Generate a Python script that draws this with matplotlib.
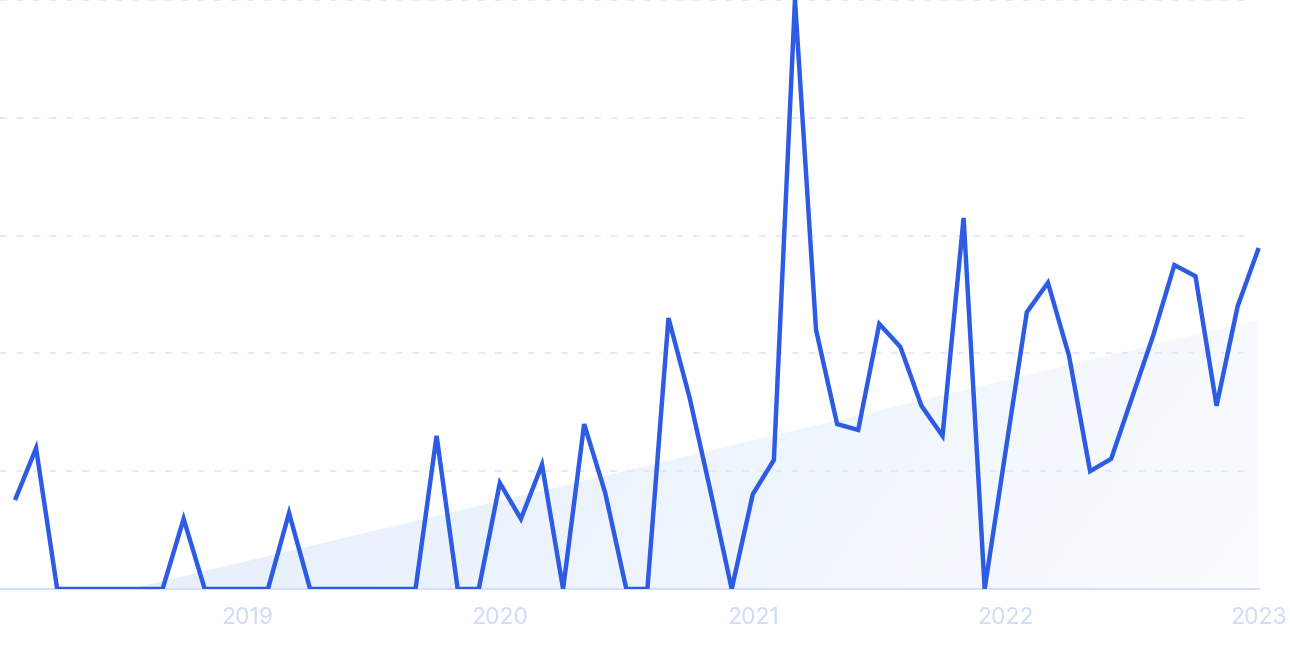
import matplotlib
matplotlib.use("Agg")
import matplotlib.pyplot as plt
import numpy as np
from matplotlib.patches import Polygon
from matplotlib.colors import LinearSegmentedColormap

# Monthly values, Feb 2018 .. Jan 2023 (index 0..59)
values = [15.1, 23.9, 0, 0, 0, 0, 0, 0, 11.9, 0,
          0, 0, 0, 12.9, 0, 0, 0, 0, 0, 0,
          26.0, 0, 0, 18.0, 11.9, 21.1, 0, 28.0, 16.3, 0,
          0, 46.0, 32.5, 16.5, 0, 16.1, 21.9, 100.0, 44.0, 28.0,
          27.0, 45.0, 41.1, 31.1, 26.0, 63.0, 0, 23.6, 47.0, 52.0,
          39.6, 20.0, 22.1, 32.6, 43.1, 55.0, 53.1, 31.1, 48.0, 57.9]
# Trend line end values (at first and last month)
trend_start, trend_end = -4.66, 45.7
tick_positions = [11, 23, 35, 47, 59]
tick_labels = ["2019", "2020", "2021", "2022", "2023"]
grid_values = [20, 40, 60, 80, 100]

plt.rcParams['font.family'] = ['Inter', 'DejaVu Sans']

fig = plt.figure(figsize=(12.9, 6.45), dpi=100)
ax = fig.add_axes([0, (645 - 589) / 645, 1, 589 / 645])
px = 21.08
x0 = -15 / px
x1 = (1290 - 15) / px
ax.set_xlim(x0, x1)
ax.set_ylim(0, 100)
for s in ax.spines.values():
    s.set_visible(False)
ax.set_yticks([])
ax.set_xticks(tick_positions)
ax.set_xticklabels(tick_labels, fontsize=16.5, color="#d0dbf4")
ax.tick_params(axis='x', length=0, pad=13)

n = len(values)
idx = np.arange(n)

# grid
grid_end = (1250 - 15) / px
for g in grid_values:
    ax.plot([x0, grid_end], [g, g], color="#dbe5f8", lw=1.1,
            dashes=(4.3, 6.5), zorder=1, clip_on=False)
ax.plot([x0, n - 1], [0, 0], color="#d3e0f8", lw=1.4, zorder=2, clip_on=False)

# trend area with gradient
xz = (n - 1) * (0 - trend_start) / (trend_end - trend_start)
poly_pts = [(xz, 0), (n - 1, trend_end), (n - 1, 0)]
poly = Polygon(poly_pts, closed=True, facecolor='none', edgecolor='none')
ax.add_patch(poly)
cmap = LinearSegmentedColormap.from_list("g", ["#e2edfb", "#fafcff"])
gx = np.linspace(0, 1, 256)
gy = np.linspace(0, 1, 64)
GX, GY = np.meshgrid(gx, gy)
grad = 0.85 * GX + 0.15 * GY
im = ax.imshow(grad, extent=[xz, n - 1, 0, trend_end], origin='upper',
               cmap=cmap, aspect='auto', zorder=0.5, vmin=0, vmax=1)
im.set_clip_path(poly)

ax.plot(idx, values, color="#2d5be3", lw=3.2, zorder=3,
        solid_joinstyle='miter', solid_capstyle='butt')

fig.savefig("out.png", dpi=100, facecolor="white")
